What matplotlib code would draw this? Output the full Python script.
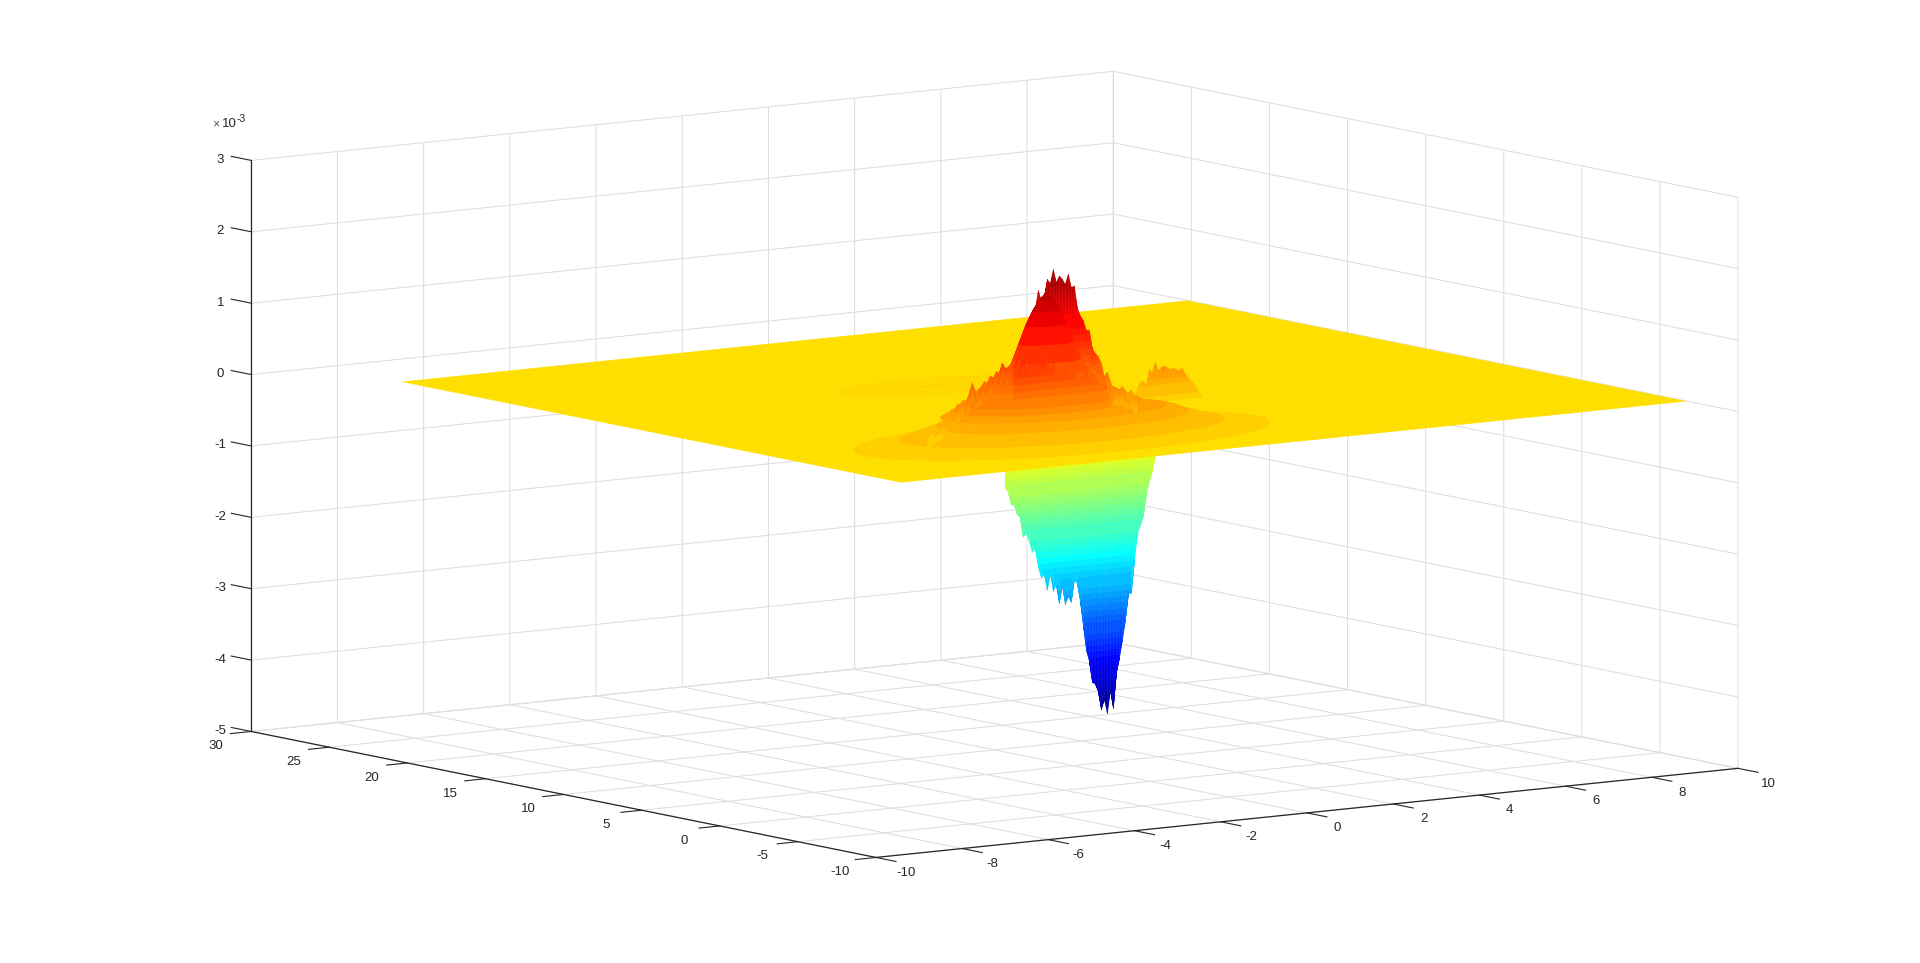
"""
surface with a peak, a side bump and a pit over a flat sheet (values in units of 1e-3)
"""
import numpy as np
import matplotlib
matplotlib.use("Agg")
import matplotlib.pyplot as plt
from matplotlib.colors import ListedColormap
from mpl_toolkits.mplot3d.art3d import Poly3DCollection

plt.rcParams["font.family"] = ["Liberation Sans", "DejaVu Sans"]
plt.rcParams["grid.color"] = "#dedede"
plt.rcParams["grid.linewidth"] = 0.75

# axes
x_ticks = [-10, -8, -6, -4, -2, 0, 2, 4, 6, 8, 10]
y_ticks = [-10, -5, 0, 5, 10, 15, 20, 25, 30]
z_ticks = [-5, -4, -3, -2, -1, 0, 1, 2, 3]

# flat sheet
sheet_x = [-8.2, 10.0]
sheet_y = [-6.6, 25.3]
sheet_z = [[0.0, 0.0], [0.0, 0.0]]

# wide low rings around the peak: radius and height
ring_center = (-2.65, -1.57)
ring_r = [0, 2.3, 2.55, 2.8, 3.05, 3.3, 3.55, 3.8, 4.1, 4.35, 4.55, 4.8]
ring_z = [0.42, 0.42, 0.38, 0.31, 0.26, 0.21, 0.17, 0.14, 0.11, 0.09, 0.07, 0.0]

# mound under the peak: radius and height
mound_center = (-3.0, -1.57)
mound_r = [0, 0.15, 0.3, 0.45, 0.6, 0.75, 0.9, 1.1, 1.3, 1.55, 1.8, 2.05, 2.3]
mound_z = [2.1, 2.0, 1.85, 1.65, 1.4, 1.15, 1.0, 0.88, 0.78, 0.68, 0.6, 0.52, 0.45]

# faint ripple on the sheet behind the mound
ripple_center = (-1.1, 11.0)
ripple_r = [0, 1.0, 2.0, 2.5]
ripple_z = [0.12, 0.12, 0.12, 0.0]

# jagged crest of the peak, left to right
crest_x = (-5.39, -0.52)
crest_y = -0.57
crest_top = [0.25, 0.28, 0.30, 0.35, 0.36, 0.38, 0.40, 0.47, 0.53, 0.54, 0.59, 0.60,
             0.65, 0.63, 0.74, 0.88, 0.75, 0.77, 0.81, 0.88, 0.85, 0.95, 0.91, 1.00,
             0.98, 1.11, 1.03, 1.05, 1.07, 1.16, 1.11, 1.17, 1.28, 1.58, 1.64, 1.69,
             1.82, 2.08, 1.93, 1.97, 2.22, 2.15, 2.35, 2.16, 2.25, 2.20, 2.12, 2.26,
             2.07, 2.09, 1.78, 1.66, 1.59, 1.45, 1.44, 1.18, 1.11, 1.06, 0.96, 0.77,
             0.83, 0.70, 0.58, 0.60, 0.57, 0.61, 0.54, 0.51, 0.55, 0.45, 0.47]
crest_levels = [0, 0.1, 0.2, 0.3, 0.4, 0.5, 0.6, 0.7, 0.8, 0.9, 1.0, 1.1, 1.2, 1.3,
                1.4, 1.5, 1.6, 1.7, 1.8, 1.9, 2.0, 2.1, 2.2, 2.3, 2.4]
# the flanks of the crest are drawn again over the rings as a thin jagged edge
flank_drop = [0.24, 0.16, 0.08, 0]
left_flank = 32
right_flank = 53

# side bump behind the mound
bump_x = (0.72, 2.74)
bump_y = 3.43
bump_top = [0, 0.10, 0.20, 0.28, 0.37, 0.39, 0.31, 0.54, 0.49, 0.63, 0.51, 0.55, 0.57,
            0.54, 0.52, 0.53, 0.50, 0.48, 0.52, 0.42, 0.37, 0.32, 0.27, 0.19, 0.14,
            0.07, 0.03, 0, 0, 0]
bump_levels = [0, 0.08, 0.16, 0.24, 0.32, 0.4, 0.48, 0.56, 0.64]

# spikes on the front of the peak
inner_x = (-4.29, -2.13)
inner_y = -3.07
inner_top = [1.19, 1.30, 1.15, 1.38, 1.12, 1.26, 1.16, 1.30, 1.13, 1.42, 1.14, 1.32,
             1.11, 1.18, 1.08, 1.12, 1.00, 1.09, 1.15, 0.97, 1.08, 0.93, 1.00, 0.90,
             1.11, 0.87, 0.96, 0.88, 0.93, 0.81, 0.92, 0.80]
inner_levels = [0.75, 0.85, 0.95, 1.05, 1.15, 1.25, 1.35, 1.45]

# pit below the sheet: lower outline, left to right
pit_x = (1.04, 4.53)
pit_bottom = [-0.73, -0.81, -1.04, -1.04, -1.21, -1.27, -1.61, -1.55, -1.69, -1.89,
              -1.83, -2.14, -2.34, -2.29, -2.57, -2.29, -2.60, -2.48, -2.82, -2.51,
              -2.85, -2.71, -2.82, -2.43, -2.51, -2.82, -3.25, -3.67, -3.87, -4.24,
              -4.27, -4.41, -4.72, -4.55, -4.81, -4.41, -4.72, -4.13, -3.87, -3.56,
              -3.22, -2.77, -2.77, -2.20, -1.75, -1.61, -1.46, -1.07, -0.87, -0.70,
              -0.44]
pit_levels = [0, -0.1, -0.2, -0.3, -0.4, -0.5, -0.6, -0.7, -0.8, -0.9, -1.0, -1.1,
              -1.2, -1.3, -1.4, -1.5, -1.6, -1.7, -1.8, -1.9, -2.0, -2.1, -2.2, -2.3,
              -2.4, -2.5, -2.6, -2.7, -2.8, -2.9, -3.0, -3.1, -3.2, -3.3, -3.4, -3.5,
              -3.6, -3.7, -3.8, -3.9, -4.0, -4.1, -4.2, -4.3, -4.4, -4.5, -4.6, -4.7,
              -4.8]


def jet64():
    # same table as the 64 level jet of the original plotting tool
    u = np.concatenate([np.arange(1, 17) / 16, np.ones(15), np.arange(16, 0, -1) / 16])
    rgb = np.zeros((64, 3))
    for channel, start in ((0, 24), (1, 8), (2, -8)):
        idx = start + np.arange(len(u))
        ok = (idx >= 0) & (idx < 64)
        rgb[idx[ok], channel] = u[ok]
    return ListedColormap(rgb)


cmap = jet64()
norm = plt.Normalize(-4.73, 2.57)

# shear so a column stays upright on screen when it runs back in y
SHEAR = 0.362


def add_mesh(ax, X, Y, Z, order, alpha=1.0):
    """draw a grid as flat coloured quads, colour from the mean height"""
    P = np.stack([X, Y, Z * 1e-3], axis=-1)
    quads = np.stack([P[:-1, :-1], P[1:, :-1], P[1:, 1:], P[:-1, 1:]], axis=2)
    left = np.linalg.norm(P[:-1, 1:] - P[:-1, :-1], axis=-1)
    right = np.linalg.norm(P[1:, 1:] - P[1:, :-1], axis=-1)
    keep = (left > 0) | (right > 0)
    quads = quads[keep]
    colors = cmap(norm(quads[:, :, 2].mean(axis=1) * 1e3))
    colors[:, 3] = alpha
    edges = colors if alpha == 1.0 else "none"
    poly = Poly3DCollection(quads, facecolors=colors, edgecolors=edges, linewidths=0.35)
    poly.set_zorder(order)
    ax.add_collection3d(poly, autolim=False)


def add_round(ax, center, r, z, order, alpha=1.0):
    theta = np.linspace(0, 2 * np.pi, 91)
    R, T = np.meshgrid(np.array(r), theta, indexing="ij")
    Z = np.tile(np.array(z)[:, None], (1, len(theta)))
    add_mesh(ax, center[0] + R * np.cos(T), center[1] + R * np.sin(T), Z, order, alpha)


def add_curtain(ax, xs, y, top, levels, order):
    X, L = np.meshgrid(xs, np.array(levels), indexing="ij")
    Z = np.minimum(L, np.array(top)[:, None])
    add_mesh(ax, X, np.full(X.shape, y), Z, order)


def add_flank(ax, xs, y, top, order):
    X = np.tile(np.array(xs)[:, None], (1, len(flank_drop)))
    Z = np.array(top)[:, None] - np.array(flank_drop)[None, :]
    add_mesh(ax, X, np.full(X.shape, y), Z, order)


def add_pit(ax, order):
    xs = np.linspace(pit_x[0], pit_x[1], len(pit_bottom))
    X0, L = np.meshgrid(xs, np.array(pit_levels), indexing="ij")
    Z = np.maximum(L, np.array(pit_bottom)[:, None])
    Y = -1.25 - 2.8 * Z
    X = X0 + SHEAR * (Y - 12.2)
    add_mesh(ax, X, Y, Z, order)


def shift_labels(axis, dx, dy):
    # move tick labels by pixels; get_major_ticks resets transforms, so wrap set_position
    scale = 0.185 / 1600
    for tick in axis.get_major_ticks():
        orig = tick.label1.set_position
        tick.label1.set_position = lambda xy, o=orig: o((xy[0] + dx * scale, xy[1] + dy * scale))


fig = plt.figure(figsize=(19.2, 9.63), dpi=100)
ax = fig.add_axes([173 / 1920, -323 / 963, 1600 / 1920, 1600 / 963],
                  projection="3d", proj_type="ortho", computed_zorder=False)
ax.patch.set_alpha(0)
ax.view_init(elev=8.3, azim=-125.6)
ax.set_box_aspect((1060, 1073, 577), zoom=0.98)

crest_xs = np.linspace(crest_x[0], crest_x[1], len(crest_top))
bump_xs = np.linspace(bump_x[0], bump_x[1], len(bump_top))
inner_xs = np.linspace(inner_x[0], inner_x[1], len(inner_top))

add_pit(ax, 1)
SX, SY = np.meshgrid(sheet_x, sheet_y, indexing="ij")
add_mesh(ax, SX, SY, np.array(sheet_z), 2)
add_round(ax, ripple_center, ripple_r, ripple_z, 2.5, alpha=0.35)
add_curtain(ax, bump_xs, bump_y, bump_top, bump_levels, 2.8)
add_curtain(ax, crest_xs, crest_y, crest_top, crest_levels, 3)
add_round(ax, ring_center, ring_r, ring_z, 3.5)
add_round(ax, mound_center, mound_r, mound_z, 4)
add_flank(ax, crest_xs[:left_flank], crest_y, crest_top[:left_flank], 4.5)
add_flank(ax, crest_xs[right_flank:], crest_y, crest_top[right_flank:], 4.5)
add_curtain(ax, inner_xs, inner_y, inner_top, inner_levels, 5)

ax.set_xlim(-10, 10)
ax.set_ylim(-10, 30)
ax.set_zlim(-5e-3, 3e-3)
ax.set_xticks(x_ticks, labels=[str(v) for v in x_ticks])
ax.set_yticks(y_ticks, labels=[str(v) for v in y_ticks])
ax.set_zticks([v * 1e-3 for v in z_ticks], labels=[str(v) for v in z_ticks])
ax.tick_params(axis="both", colors="#262626", labelsize=9.5, pad=0)
ax.tick_params(axis="z", colors="#262626", labelsize=9.5, pad=0)

# tick length per axis
axis_setup = ((ax.xaxis, 0, 0.4), (ax.yaxis, 0, 0.3), (ax.zaxis, 0.4, 0))
for axis, out_f, in_f in axis_setup:
    axis.set_pane_color((1, 1, 1, 0))
    axis.pane.set_edgecolor((1, 1, 1, 0))
    axis.line.set_color("#262626")
    axis.line.set_linewidth(0.9)
    axis._axinfo["tick"]["outward_factor"] = out_f
    axis._axinfo["tick"]["inward_factor"] = in_f
# z ticks run along y in the original
ax.zaxis._get_tickdir = lambda pos: 1

shift_labels(ax.xaxis, 22, 0)
shift_labels(ax.yaxis, -24, 0)
shift_labels(ax.zaxis, -11, 6)

# exponent above the z axis
fig.text(212 / 1920, 1 - 127 / 963, "\u00d7", fontsize=9, color="#555555")
fig.text(222 / 1920, 1 - 127 / 963, "10", fontsize=9.5, color="#262626")
fig.text(237 / 1920, 1 - 122 / 963, "-3", fontsize=7.5, color="#262626")

fig.savefig("out.png", dpi=100)
